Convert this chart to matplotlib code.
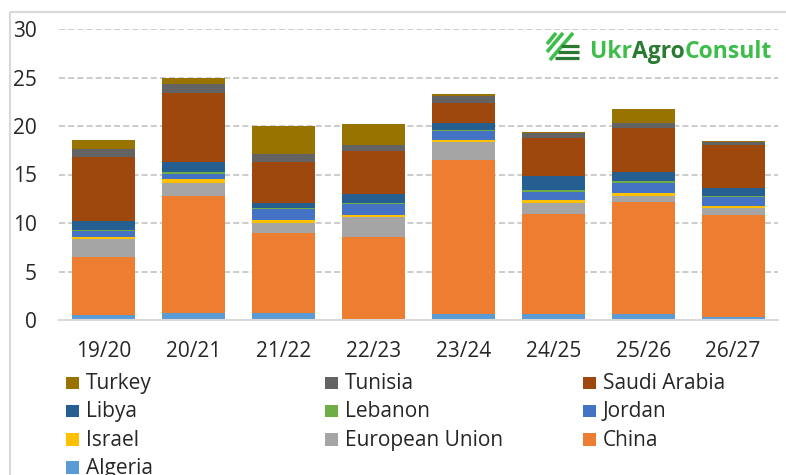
#!/usr/bin/env python
"""
Wheat import chart (stacked bars by destination, million t)

Output: out.png (786x475)
"""

import matplotlib
matplotlib.use('Agg')
import matplotlib.pyplot as plt
from matplotlib.patches import Rectangle

# ---- data (million t) ----
seasons = ['19/20', '20/21', '21/22', '22/23', '23/24', '24/25', '25/26', '26/27']

algeria = [0.5, 0.7, 0.7, 0.1, 0.6, 0.6, 0.6, 0.3]
china = [6.0, 12.1, 8.3, 8.5, 15.9, 10.3, 11.6, 10.5]
european_union = [1.8, 1.3, 1.0, 2.0, 1.9, 1.2, 0.6, 0.7]
israel = [0.3, 0.4, 0.3, 0.2, 0.2, 0.3, 0.3, 0.3]
jordan = [0.6, 0.6, 1.1, 1.2, 0.9, 0.8, 1.0, 0.9]
lebanon = [0.05, 0.2, 0.1, 0.1, 0.05, 0.2, 0.2, 0.1]
libya = [1.0, 1.0, 0.6, 0.9, 0.8, 1.4, 1.0, 0.8]
saudi_arabia = [6.6, 7.1, 4.2, 4.4, 2.0, 4.0, 4.5, 4.4]
tunisia = [0.8, 0.9, 0.8, 0.6, 0.7, 0.5, 0.5, 0.4]
turkey = [0.9, 0.7, 2.9, 2.2, 0.2, 0.1, 1.5, 0.1]

y_ticks = [0, 5, 10, 15, 20, 25, 30]

# stack order: bottom -> top
series = [
    ('Algeria', algeria, '#5B9BD5'),
    ('China', china, '#ED7D31'),
    ('European Union', european_union, '#A5A5A5'),
    ('Israel', israel, '#FFC000'),
    ('Jordan', jordan, '#4472C4'),
    ('Lebanon', lebanon, '#70AD47'),
    ('Libya', libya, '#255E91'),
    ('Saudi Arabia', saudi_arabia, '#9E480E'),
    ('Tunisia', tunisia, '#636363'),
    ('Turkey', turkey, '#997300'),
]

W, H = 786, 475
FONT = ['Open Sans', 'DejaVu Sans']
TEXT_COLOR = '#262626'


def main():
    plt.rcParams['font.family'] = FONT
    fig = plt.figure(figsize=(W / 100, H / 100), dpi=100)

    # plot area
    left, right = 59, 778
    top, bottom = 29, 320
    ax = fig.add_axes([left / W, 1 - bottom / H, (right - left) / W, (bottom - top) / H])

    x = range(len(seasons))
    base = [0.0] * len(seasons)
    for name, values, color in series:
        ax.bar(x, values, bottom=base, width=0.7, color=color, linewidth=0, zorder=3)
        base = [b + v for b, v in zip(base, values)]

    ax.set_xlim(-0.5, len(seasons) - 0.5)
    ax.set_ylim(0, 30)
    ax.set_yticks(y_ticks)
    ax.set_xticks(list(x))
    ax.set_xticklabels(seasons)
    ax.tick_params(axis='both', length=0, labelsize=15, colors=TEXT_COLOR)
    ax.tick_params(axis='x', pad=15)
    ax.tick_params(axis='y', pad=16)

    ax.yaxis.grid(True, color='#BFBFBF', linestyle=(0, (4, 2)), linewidth=1.1, zorder=0)
    for side in ['top', 'right', 'left']:
        ax.spines[side].set_visible(False)
    ax.spines['bottom'].set_color('#D9D9D9')
    ax.spines['bottom'].set_linewidth(1.5)
    ax.spines['bottom'].set_zorder(4)

    # overlay in pixel coordinates for legend, frame and logo
    ov = fig.add_axes([0, 0, 1, 1], facecolor='none')
    ov.set_xlim(0, W)
    ov.set_ylim(H, 0)
    ov.axis('off')

    # outer chart frame (only top and left visible)
    ov.add_patch(Rectangle((10, 12), W + 20, H + 20, fill=False,
                           edgecolor='#D9D9D9', linewidth=1.5, clip_on=False))

    # legend: 3 columns, filled row-wise from the top of the stack
    # (last row is cut by the image edge, as in the source)
    legend_items = list(reversed(series))
    col_x = [66, 325, 583]
    row_base = 389
    row_step = 28.3
    for i, (name, _, color) in enumerate(legend_items):
        r, c = divmod(i, 3)
        yb = row_base + r * row_step
        ov.add_patch(Rectangle((col_x[c], yb - 12.5), 12.5, 12.5,
                               facecolor=color, edgecolor='none', clip_on=False))
        ov.text(col_x[c] + 20, yb, name, fontsize=15, color=TEXT_COLOR,
                va='baseline', ha='left', clip_on=False)

    # logo
    light = '#3DBE4A'
    dark = '#2A7A31'
    for (x0, y0, x1, y1) in [(547, 44, 556, 33), (547, 52, 563, 33), (550, 60, 573, 33)]:
        ov.plot([x0, x1], [y0, y1], color=light, linewidth=2.6, solid_capstyle='butt')
    for yy, x0 in [(46, 561), (52, 558), (58, 555)]:
        ov.plot([x0, 579], [yy, yy], color=dark, linewidth=2.3, solid_capstyle='butt')

    renderer = fig.canvas.get_renderer()
    cursor = 590
    for part, color in [('Ukr', light), ('Agro', dark), ('Consult', light)]:
        t = ov.text(cursor, 57.5, part, fontsize=16.5, fontweight='bold', color=color,
                    va='baseline', ha='left')
        cursor += t.get_window_extent(renderer).width

    fig.savefig('out.png', dpi=100, facecolor='white')


if __name__ == '__main__':
    main()
